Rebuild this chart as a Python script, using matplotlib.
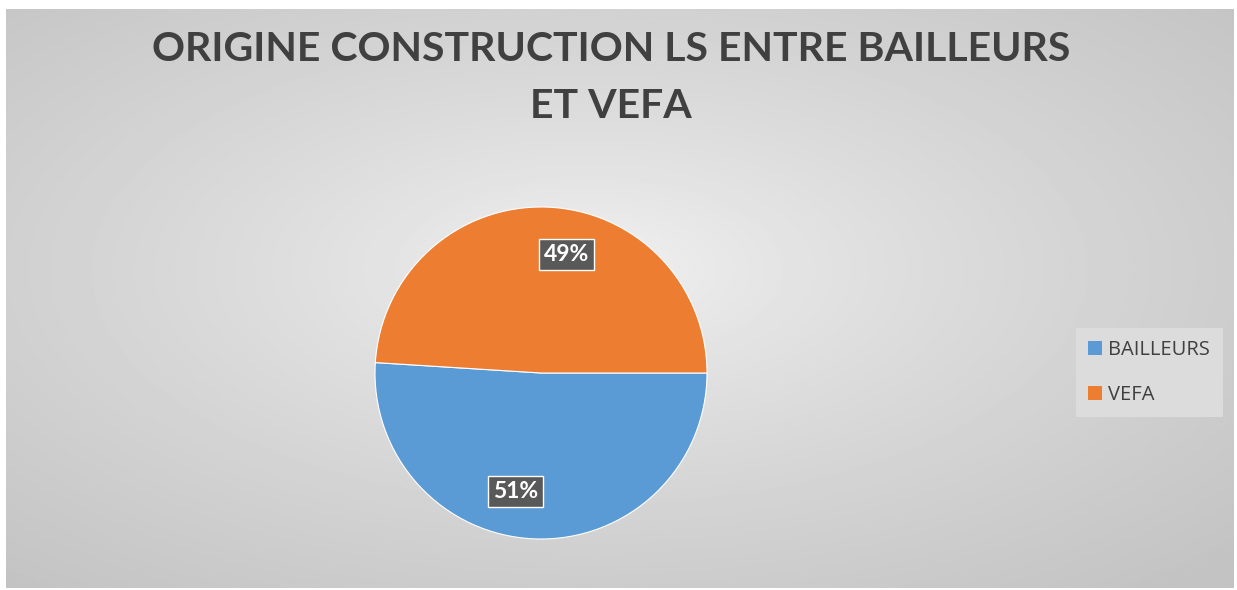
import numpy as np
import matplotlib.pyplot as plt
from matplotlib.patches import Patch

labels = ['BAILLEURS', 'VEFA']
values = [51, 49]
colors = ['#5B9BD5', '#ED7D31']
title = 'ORIGINE CONSTRUCTION LS ENTRE BAILLEURS\nET VEFA'

W, H = 1237, 590
fig = plt.figure(figsize=(W / 100, H / 100), dpi=100)
fig.patch.set_facecolor('white')

# radial grey gradient background
bg = fig.add_axes([6 / W, 2 / H, 1228 / W, 579 / H])
bg.set_axis_off()
yy, xx = np.mgrid[-1:1:300j, -1:1:600j]
d = np.sqrt((xx + 0.05) ** 2 + (yy + 0.1) ** 2)
d = np.clip(d, 0, 1.45) / 1.45
v = 0.955 - 0.19 * d ** 0.75
bg.imshow(v, cmap='gray', vmin=0, vmax=1, aspect='auto', extent=[0, 1, 0, 1])

# va='baseline' anchors the last line for multiline text
fig.text(611 / W, 1 - 118 / H, title, ha='center', va='baseline',
         fontsize=29.5, fontweight='bold', color='#404040',
         family='Lato', linespacing=1.68)

cx, cy, r = 541, 373, 166
ax = fig.add_axes([(cx - r) / W, (H - cy - r) / H, 2 * r / W, 2 * r / H])
wedges, _ = ax.pie(values, colors=colors, startangle=0, counterclock=False,
                   wedgeprops=dict(edgecolor='white', linewidth=0.8))
ax.set_xlim(-1, 1)
ax.set_ylim(-1, 1)

total = sum(values)
for w, val in zip(wedges, values):
    mid = np.deg2rad((w.theta1 + w.theta2) / 2 - 10.5)
    ax.text(0.73 * np.cos(mid), 0.73 * np.sin(mid), f'{round(100 * val / total)}%',
            ha='center', va='center', color='white', fontsize=16.5,
            fontweight='bold', family='Lato',
            bbox=dict(boxstyle='square,pad=0.22', fc='#595959', ec='white', lw=1))

handles = [Patch(facecolor=c, edgecolor='none') for c in colors]
leg = fig.legend(handles, labels, loc='center', mode='expand',
                 bbox_to_anchor=(1076 / W, 1 - 418 / H, 147 / W, 91 / H),
                 borderaxespad=0, frameon=True, fancybox=False,
                 facecolor='#dcdcdc', edgecolor='none', framealpha=1,
                 prop=dict(family='Open Sans', size=14.5),
                 handlelength=0.7, handleheight=0.7, handletextpad=0.3,
                 labelspacing=1.25, borderpad=0.6)
for t in leg.get_texts():
    t.set_color('#404040')

fig.savefig('out.png', dpi=100)
